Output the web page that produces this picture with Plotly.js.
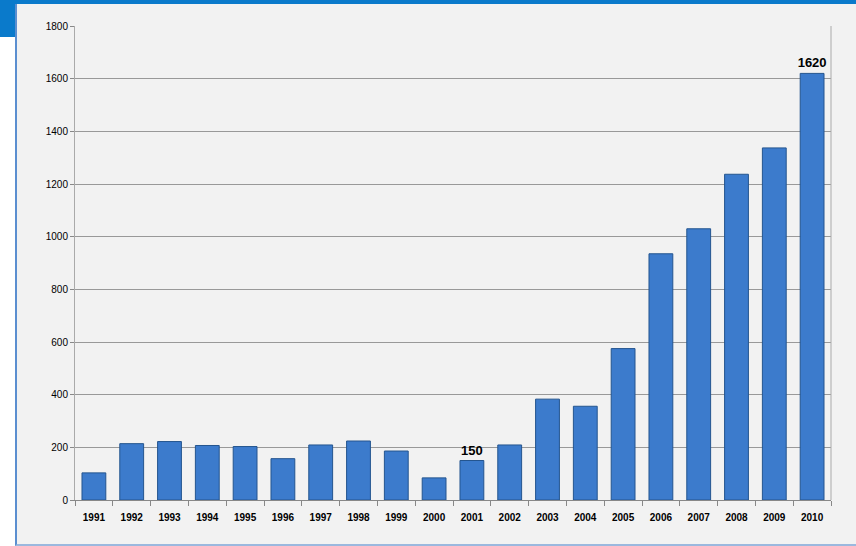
<!DOCTYPE html><html><head><script src="https://cdn.plot.ly/plotly-3.0.1.min.js"></script>
<style>body{margin:0;background:#fff}#wrap{position:absolute;left:0;top:0;width:856px;height:546px}
#hdr{position:absolute;left:0;top:0;width:856px;height:37px;background:#0a7acb}
#panel{position:absolute;left:15px;top:4px;width:841px;height:540px;background:#f2f2f2;border-left:2px solid #5b8fd0;border-bottom:2px solid #9bb8de}
#c{position:absolute;left:15px;top:4px;width:841px;height:540px}</style></head><body>
<div id="wrap"><div id="hdr"></div><div id="panel"></div><div id="c"></div></div>
<script>
const years=['1991','1992','1993','1994','1995','1996','1997','1998','1999','2000','2001','2002','2003','2004','2005','2006','2007','2008','2009','2010'];
const values=[103,214,222,207,203,157,209,224,186,84,150,209,383,356,575,935,1030,1237,1337,1620];
const labels=values.map((v,i)=>(years[i]==='2001'||years[i]==='2010')?String(v):'');
Plotly.newPlot('c',[{type:'bar',x:years,y:values,text:labels,textposition:'outside',cliponaxis:false,constraintext:'none',
textfont:{family:'Liberation Sans, Arial',size:13,color:'#000',weight:'bold'},
marker:{color:'#3c7bcc',line:{color:'#24558f',width:1}}}],
{width:841,height:540,paper_bgcolor:'rgba(0,0,0,0)',plot_bgcolor:'#f2f2f2',margin:{l:60,r:25,t:22,b:44},bargap:0.37,showlegend:false,
font:{family:'Liberation Sans, Arial'},
xaxis:{type:'category',showline:true,linecolor:'#888',ticks:'outside',ticklen:5,tickcolor:'#888',tickson:'boundaries',ticklabelstandoff:8,
tickfont:{family:'Liberation Sans, Arial',size:10,color:'#000',weight:'bold'}},
yaxis:{range:[0,1800],dtick:200,showline:true,linecolor:'#aaa',gridcolor:'#999',ticks:'outside',ticklen:4,tickcolor:'#888',
tickfont:{family:'Liberation Sans, Arial',size:10,color:'#000'},zeroline:false},
shapes:[{type:'line',xref:'paper',yref:'paper',x0:1,x1:1,y0:0,y1:1,line:{color:'#aaa',width:1}}]},
{displayModeBar:false});
</script></body></html>
